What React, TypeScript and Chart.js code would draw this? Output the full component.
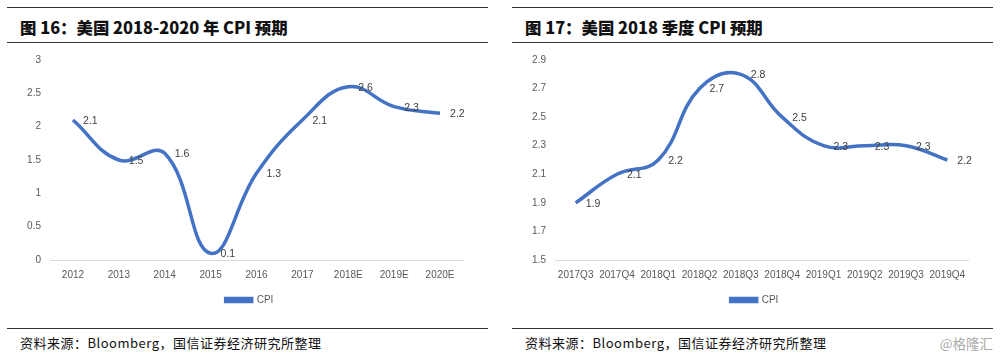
import React, { useEffect, useRef } from "react";
import { Chart, registerables } from "chart.js";

Chart.register(...registerables);

// ---- data ----
const yearCategories = ["2012", "2013", "2014", "2015", "2016", "2017", "2018E", "2019E", "2020E"];
const yearCpi = [2.1, 1.5, 1.6, 0.1, 1.3, 2.1, 2.6, 2.3, 2.2];
const yearAxis = [0, 3, 0.5]; // min, max, step

const quarterCategories = ["2017Q3", "2017Q4", "2018Q1", "2018Q2", "2018Q3", "2018Q4", "2019Q1", "2019Q2", "2019Q3", "2019Q4"];
const quarterCpi = [1.9, 2.1, 2.2, 2.7, 2.8, 2.5, 2.3, 2.3, 2.3, 2.2];
const quarterAxis = [1.5, 2.9, 0.2];

const seriesName = "CPI";
const titleLeft = "图 16：美国 2018-2020 年 CPI 预期";
const titleRight = "图 17：美国 2018 季度 CPI 预期";
const sourceText = "资料来源：Bloomberg，国信证券经济研究所整理";
const watermark = "@格隆汇";

const LINE_COLOR = "#4472C4";
const TICK_FONT = "'Liberation Sans', Arial, sans-serif";

const dataLabels = {
  id: "dataLabels",
  afterDatasetsDraw(chart: any) {
    const ctx = chart.ctx;
    const meta = chart.getDatasetMeta(0);
    const data = chart.data.datasets[0].data as number[];
    ctx.save();
    ctx.font = `10.5px ${TICK_FONT}`;
    ctx.fillStyle = "#404040";
    ctx.textAlign = "left";
    ctx.textBaseline = "middle";
    meta.data.forEach((pt: any, i: number) => {
      ctx.fillText(Number(data[i]).toFixed(1), pt.x + 10, pt.y + 1);
    });
    ctx.restore();
  },
};

// nudge the (plot-width) legend slightly left, as in the original layout
const legendNudge = {
  id: "legendNudge",
  afterLayout(chart: any) {
    const lg = chart.legend;
    if (lg) {
      lg.left -= 7;
      lg.right -= 7;
    }
  },
};

type Props = {
  left: number;
  cats: string[];
  values: number[];
  axis: number[];
  axisWidth: number;
  padRight: number;
  decimals: boolean;
};

function LineChart({ left, cats, values, axis, axisWidth, padRight, decimals }: Props) {
  const ref = useRef<HTMLCanvasElement>(null);
  useEffect(() => {
    const chart = new Chart(ref.current!, {
      type: "line",
      data: {
        labels: cats,
        datasets: [
          {
            label: seriesName,
            data: values,
            borderColor: LINE_COLOR,
            backgroundColor: LINE_COLOR,
            borderWidth: 3.5,
            pointRadius: 0,
            tension: 0.42,
            fill: false,
            clip: false as any,
          },
        ],
      },
      options: {
        responsive: false,
        animation: false,
        layout: { padding: { left: 0, right: padRight, top: 12, bottom: 5 } },
        plugins: {
          tooltip: { enabled: false },
          legend: {
            position: "bottom",
            fullSize: false,
            labels: {
              boxWidth: 26,
              boxHeight: 3,
              padding: 10,
              color: "#595959",
              font: { size: 10, family: TICK_FONT },
            },
          },
        },
        scales: {
          x: {
            offset: true,
            grid: { display: false, drawTicks: false },
            border: { display: true, color: "#d9d9d9", width: 1 },
            ticks: {
              padding: 9,
              color: "#595959",
              font: { size: 10, family: TICK_FONT },
              maxRotation: 0,
              autoSkip: false,
            },
            afterFit: (s: any) => {
              s.height = 25;
            },
          },
          y: {
            min: axis[0],
            max: axis[1],
            grid: { display: false, drawTicks: false },
            border: { display: false },
            ticks: {
              stepSize: axis[2],
              padding: 9,
              color: "#595959",
              font: { size: 10, family: TICK_FONT },
              callback: (v: any) => (decimals ? Number(v).toFixed(1) : String(+Number(v).toFixed(2))),
            },
            afterFit: (s: any) => {
              s.width = axisWidth;
            },
          },
        },
      },
      plugins: [dataLabels, legendNudge],
    });
    return () => chart.destroy();
  }, []);
  return (
    <canvas
      ref={ref}
      width={500}
      height={275}
      style={{ position: "absolute", left, top: 45, width: 500, height: 275 }}
    />
  );
}

const rule = (left: number, top: number, width: number) => (
  <div style={{ position: "absolute", left, top, width, height: 1, background: "#333" }} />
);

const titleStyle = (left: number): React.CSSProperties => ({
  position: "absolute",
  left,
  top: 17,
  fontFamily: "'Noto Sans CJK SC', sans-serif",
  fontWeight: 900,
  fontSize: 16.4,
  lineHeight: "20px",
  color: "#111",
  whiteSpace: "nowrap",
});

const sourceStyle = (left: number): React.CSSProperties => ({
  position: "absolute",
  left,
  top: 334,
  fontFamily: "'Noto Sans CJK SC', sans-serif",
  fontSize: 13,
  letterSpacing: 0.5,
  lineHeight: "18px",
  color: "#111",
  whiteSpace: "nowrap",
});

export default function App() {
  return (
    <div
      style={{
        position: "absolute",
        left: 0,
        top: 0,
        width: 1000,
        height: 359,
        background: "#fff",
        overflow: "hidden",
      }}
    >
      {rule(7, 7, 481)}
      {rule(7, 42, 481)}
      {rule(7, 328, 481)}
      {rule(512, 7, 481)}
      {rule(512, 42, 481)}
      {rule(512, 328, 481)}
      <div style={titleStyle(20)}>{titleLeft}</div>
      <div style={titleStyle(525)}>{titleRight}</div>
      <LineChart left={0} cats={yearCategories} values={yearCpi} axis={yearAxis} axisWidth={50} padRight={37} decimals={false} />
      <LineChart left={500} cats={quarterCategories} values={quarterCpi} axis={quarterAxis} axisWidth={55} padRight={32} decimals={true} />
      <div style={sourceStyle(20)}>{sourceText}</div>
      <div style={sourceStyle(525)}>{sourceText}</div>
      <div
        style={{
          position: "absolute",
          right: 7,
          top: 334,
          fontFamily: "'Noto Sans CJK SC', sans-serif",
          fontSize: 13.5,
          lineHeight: "18px",
          color: "#aaa",
          whiteSpace: "nowrap",
        }}
      >
        {watermark}
      </div>
    </div>
  );
}
